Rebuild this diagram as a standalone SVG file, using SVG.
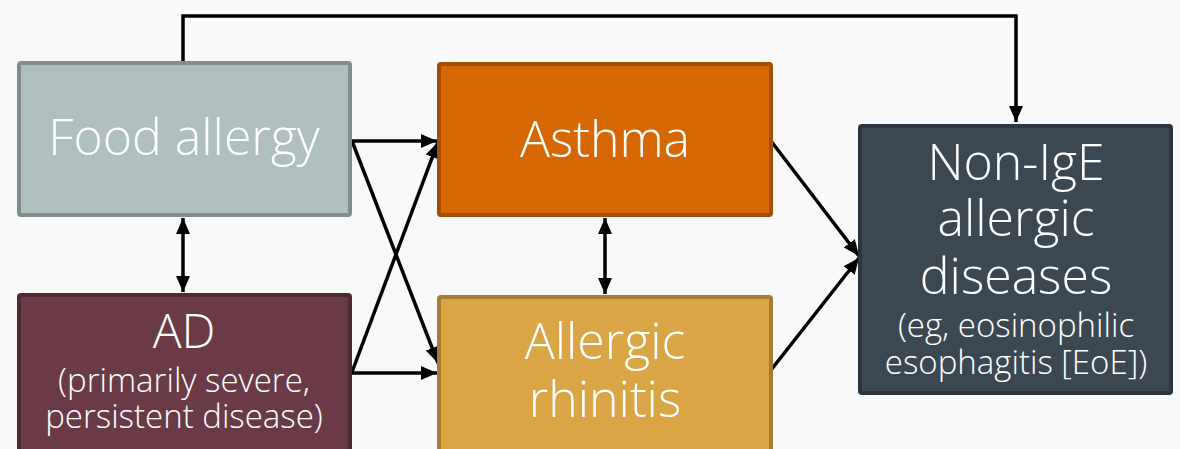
<svg xmlns="http://www.w3.org/2000/svg" width="1180" height="449" viewBox="0 0 1180 449">
<defs>
<marker id="ah" markerUnits="userSpaceOnUse" markerWidth="18" markerHeight="16" refX="16" refY="7" orient="auto-start-reverse">
<path d="M0,0 L16,7 L0,14 Z" fill="#000"/>
</marker>
<style>
.box{stroke-width:4}
.big{font-family:"Open Sans","Noto Sans",sans-serif;font-weight:300;font-size:50px;fill:#fff;text-anchor:middle}
.small{font-family:"Open Sans","Noto Sans",sans-serif;font-weight:300;font-size:33px;fill:#fff;text-anchor:middle}
.c{fill:none;stroke:#000;stroke-width:3.5}
</style>
</defs>
<rect x="0" y="0" width="1180" height="449" fill="#f9f9f9"/>
<g id="connectors">
<path class="c" d="M183,61 L183,16 L1016,16 L1016,122" marker-end="url(#ah)"/>
<path class="c" d="M352,141 L437,141" marker-end="url(#ah)"/>
<path class="c" d="M352,141 L438,363" marker-end="url(#ah)"/>
<path class="c" d="M352,372 L438,142" marker-end="url(#ah)"/>
<path class="c" d="M352,373 L437,373" marker-end="url(#ah)"/>
<path class="c" d="M183,218 L183,292" marker-start="url(#ah)" marker-end="url(#ah)"/>
<path class="c" d="M605,218 L605,294" marker-start="url(#ah)" marker-end="url(#ah)"/>
<path class="c" d="M771,141 L859,256" marker-end="url(#ah)"/>
<path class="c" d="M771,370 L859,258" marker-end="url(#ah)"/>
</g>
<g id="food-allergy">
<rect class="box" x="19" y="63" width="331" height="152" fill="#aebfbe" stroke="#818c8c" rx="2"/>
<text class="big" x="184" y="155">Food allergy</text>
</g>
<g id="ad">
<rect class="box" x="19" y="295" width="331" height="160" fill="#6b3a47" stroke="#4f2a33" rx="2"/>
<text class="big" x="184" y="348" style="font-size:48px">AD</text>
<text class="small" x="184" y="392">(primarily severe,</text>
<text class="small" x="184" y="428">persistent disease)</text>
</g>
<g id="asthma">
<rect class="box" x="439" y="64" width="332" height="151" fill="#d76703" stroke="#a44e05" rx="2"/>
<text class="big" x="605" y="157">Asthma</text>
</g>
<g id="allergic-rhinitis">
<rect class="box" x="439" y="297" width="332" height="160" fill="#d9a545" stroke="#a67c35" rx="2"/>
<text class="big" x="605" y="359">Allergic</text>
<text class="big" x="605" y="417">rhinitis</text>
</g>
<g id="non-ige">
<rect class="box" x="860" y="126" width="311" height="267" fill="#3b4852" stroke="#2c353c" rx="2"/>
<text class="big" x="1016" y="180">Non-IgE</text>
<text class="big" x="1016" y="236">allergic</text>
<text class="big" x="1016" y="294">diseases</text>
<text class="small" x="1016" y="337">(eg, eosinophilic</text>
<text class="small" x="1016" y="374">esophagitis [EoE])</text>
</g>
</svg>
